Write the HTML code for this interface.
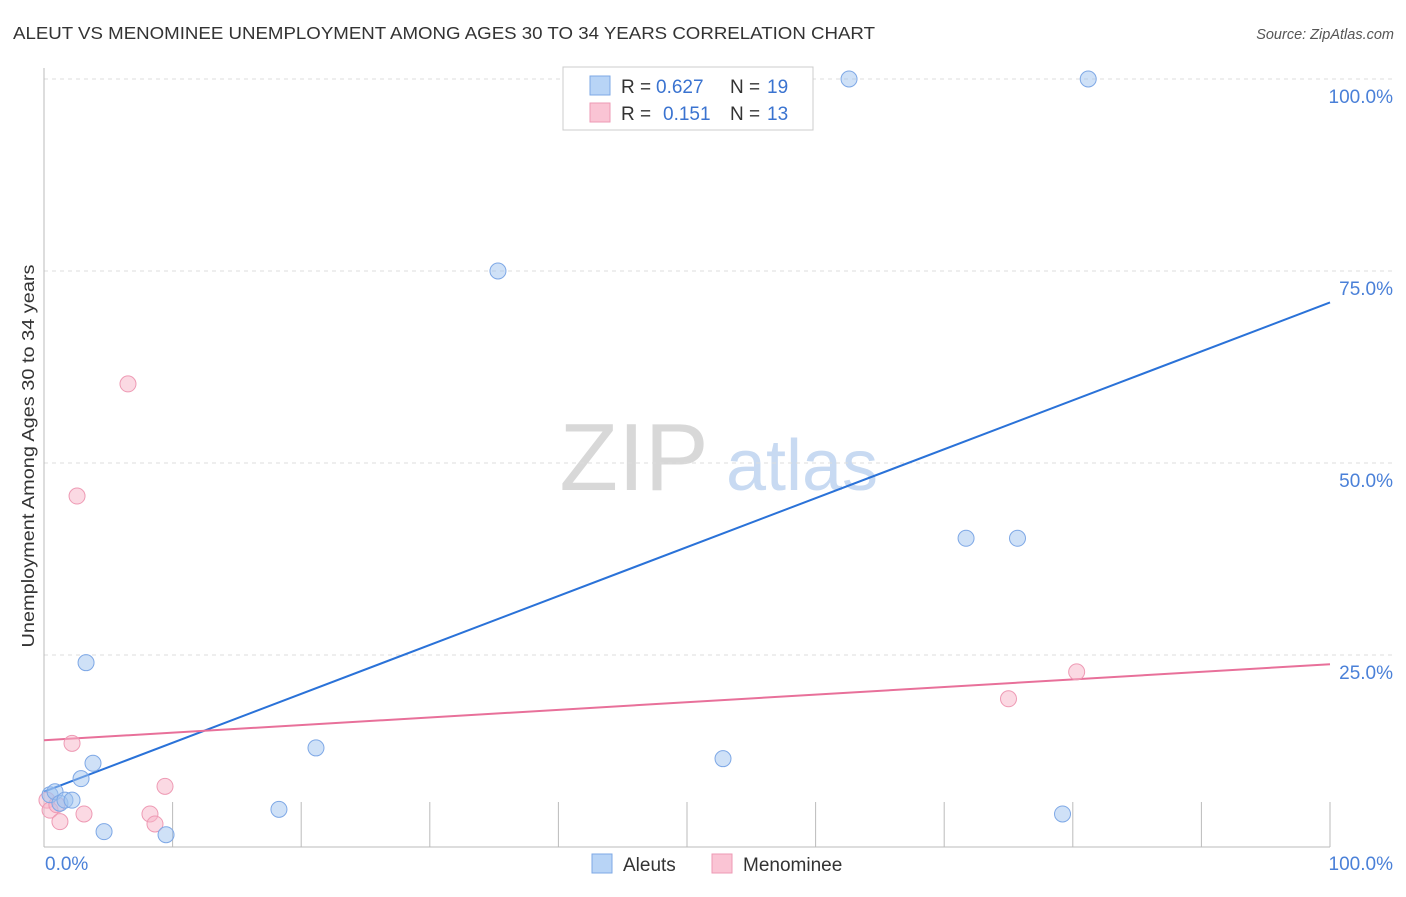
<!DOCTYPE html>
<html><head><meta charset="utf-8"><style>
body{margin:0;background:#fff;font-family:"Liberation Sans",sans-serif;}
svg text{font-family:"Liberation Sans",sans-serif;}
</style></head><body>
<svg id="chart" width="1406" height="892" xmlns="http://www.w3.org/2000/svg">
<text x="13" y="39" font-size="17.5" fill="#333" textLength="862" lengthAdjust="spacingAndGlyphs">ALEUT VS MENOMINEE UNEMPLOYMENT AMONG AGES 30 TO 34 YEARS CORRELATION CHART</text>
<text x="1394" y="39" font-size="14.5" fill="#555" text-anchor="end" font-style="italic">Source: ZipAtlas.com</text>
<text transform="translate(34,456) rotate(-90)" font-size="17.5" fill="#333" text-anchor="middle" textLength="383" lengthAdjust="spacingAndGlyphs">Unemployment Among Ages 30 to 34 years</text>
<g>
<text x="634" y="490" font-size="96" fill="#d8d8d8" font-family="Liberation Serif,serif" text-anchor="middle">ZIP</text>
<text x="802" y="490" font-size="72" fill="#c8daf2" text-anchor="middle">atlas</text>
</g>
<g id="grid"></g><g id="axes"></g><g id="lines"></g><g id="pts"></g>
<g>
<rect x="563" y="67" width="250" height="63" fill="#fff" stroke="#ccc"/>
<rect x="590" y="76" width="20" height="19" fill="#b8d4f6" stroke="#7ea8e6"/>
<text x="621" y="93" font-size="19" fill="#333">R =</text>
<text x="656" y="93" font-size="19" fill="#3a73d0">0.627</text>
<text x="730" y="93" font-size="19" fill="#333">N =</text>
<text x="767" y="93" font-size="19" fill="#3a73d0">19</text>
<rect x="590" y="103" width="20" height="19" fill="#fac4d4" stroke="#ee9ab4"/>
<text x="621" y="120" font-size="19" fill="#333">R =</text>
<text x="663" y="120" font-size="19" fill="#3a73d0">0.151</text>
<text x="730" y="120" font-size="19" fill="#333">N =</text>
<text x="767" y="120" font-size="19" fill="#3a73d0">13</text>
</g>
<g>
<rect x="592" y="854" width="20" height="19" fill="#b8d4f6" stroke="#7ea8e6"/>
<text x="623" y="871" font-size="19" fill="#333">Aleuts</text>
<rect x="712" y="854" width="20" height="19" fill="#fac4d4" stroke="#ee9ab4"/>
<text x="743" y="871" font-size="19" fill="#333">Menominee</text>
</g>
</svg>
<script>
const yTicks=[25,50,75,100];
const yTickLabels=["25.0%","50.0%","75.0%","100.0%"];
const aleutX=[0.47,0.86,1.24,1.63,2.18,2.88,3.27,3.81,4.67,9.49,18.27,21.15,35.3,52.8,62.6,71.7,75.7,79.2,81.2];
const aleutY=[6.8,7.2,5.7,6.1,6.1,8.9,24.0,10.9,2.0,1.6,4.9,12.9,75.0,11.5,100,40.2,40.2,4.3,100];
const menX=[0.23,0.47,1.0,1.24,2.18,2.57,3.11,6.53,8.24,8.63,9.41,75.0,80.3];
const menY=[6.1,4.8,5.5,3.3,13.5,45.7,4.3,60.3,4.3,3.0,7.9,19.3,22.8];
const aleutLine=[7.2,70.9];
const menLine=[13.9,23.8];
const NS="http://www.w3.org/2000/svg";
const X=v=>44+v*12.86, Y=v=>847-v*7.68;
function mk(tag,attrs,parent){const e=document.createElementNS(NS,tag);for(const k in attrs)e.setAttribute(k,attrs[k]);document.getElementById(parent).appendChild(e);return e;}
yTicks.forEach((t,i)=>{
 const g=mk('line',{x1:44,x2:1394,y1:Y(t),y2:Y(t),stroke:'#ddd','stroke-dasharray':'4,4'},'grid');
 
 
 const l=mk('text',{x:1393,y:Y(t)+24,'font-size':19,fill:'#4a80d8','text-anchor':'end'},'axes');
 l.textContent=yTickLabels[i];
 
 
});
const ax=mk('line',{x1:44,x2:44,y1:68,y2:847,stroke:'#bbb'},'axes');


const bx=mk('line',{x1:44,x2:1330,y1:847,y2:847,stroke:'#bbb'},'axes');


for(let i=1;i<=10;i++){const t=mk('line',{x1:X(i*10),x2:X(i*10),y1:802,y2:847,stroke:'#bbb'},'axes');
 
 }
const x0=mk('text',{x:45,y:870,'font-size':19,fill:'#4a80d8'},'axes');x0.textContent='0.0%';


const x1=mk('text',{x:1393,y:870,'font-size':19,fill:'#4a80d8','text-anchor':'end'},'axes');x1.textContent='100.0%';


function pts(xs,ys,fill,stroke,name){xs.forEach((x,i)=>{const c=mk('circle',{cx:X(x),cy:Y(ys[i]),r:8,fill:fill,stroke:stroke,'stroke-width':1},'pts');
 
 });}
pts(menX,menY,'rgba(248,180,200,0.5)','#ee9ab4','menominee-point');
pts(aleutX,aleutY,'rgba(160,196,240,0.5)','#7ea8e6','aleut-point');
const la=mk('line',{x1:X(0),y1:Y(aleutLine[0]),x2:X(100),y2:Y(aleutLine[1]),stroke:'#2a72d8','stroke-width':2},'lines');


const lm=mk('line',{x1:X(0),y1:Y(menLine[0]),x2:X(100),y2:Y(menLine[1]),stroke:'#e8709a','stroke-width':2},'lines');


</script>
</body></html>
